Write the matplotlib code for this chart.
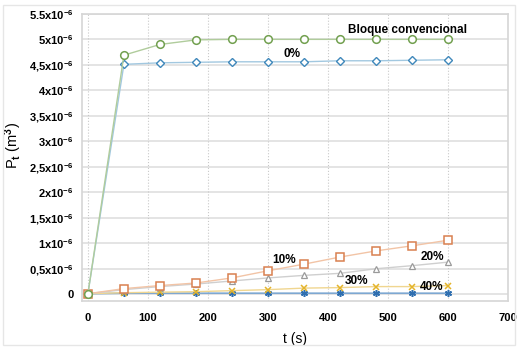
import numpy as np
import matplotlib
matplotlib.use('Agg')
import matplotlib.pyplot as plt

plt.rcParams['font.family'] = 'Liberation Sans'
plt.rcParams['font.weight'] = 'bold'
plt.rcParams['mathtext.fontset'] = 'custom'
plt.rcParams['mathtext.rm'] = 'Liberation Sans:bold'
plt.rcParams['mathtext.it'] = 'Liberation Sans:bold'
plt.rcParams['mathtext.bf'] = 'Liberation Sans:bold'
plt.rcParams['mathtext.default'] = 'rm'

# time (s)
t = [0, 60, 120, 180, 240, 300, 360, 420, 480, 540, 600]

# Pt values in units of 1e-6 m3
bloque = [0.01, 4.69, 4.90, 4.99, 5.0, 5.0, 5.0, 5.0, 5.0, 5.0, 5.0]
p0 = [0.01, 4.51, 4.54, 4.55, 4.56, 4.56, 4.56, 4.58, 4.58, 4.59, 4.60]
p10 = [0.01, 0.11, 0.17, 0.22, 0.32, 0.46, 0.59, 0.73, 0.85, 0.95, 1.06]
p20 = [0.01, 0.09, 0.15, 0.20, 0.26, 0.32, 0.37, 0.41, 0.50, 0.56, 0.63]
p30 = [0.01, 0.03, 0.04, 0.05, 0.07, 0.09, 0.12, 0.13, 0.15, 0.15, 0.17]
p40 = [0.01, 0.02, 0.02, 0.02, 0.02, 0.02, 0.02, 0.02, 0.02, 0.02, 0.02]

yticks = [0, 0.5, 1, 1.5, 2, 2.5, 3, 3.5, 4, 4.5, 5, 5.5]
ylabels = ['0', r'0,5x10$^{-6}$', r'1x10$^{-6}$', r'1,5x10$^{-6}$', r'2x10$^{-6}$',
           r'2,5x10$^{-6}$', r'3x10$^{-6}$', r'3,5x10$^{-6}$', r'4x10$^{-6}$',
           r'4,5x10$^{-6}$', r'5x10$^{-6}$', r'5.5x10$^{-6}$']
xticks = [0, 100, 200, 300, 400, 500, 600, 700]

s = 1e-6
fig = plt.figure(figsize=(5.25, 3.47), dpi=100)
ax = fig.add_axes([0.156, 0.133, 0.812, 0.827])

ax.plot(t, np.array(p40)*s, color='#7ea8d2', lw=1.2, marker=(6, 2, 0), ms=5,
        mec='#2f6fb0', mew=1.1, zorder=3)
ax.plot(t, np.array(p30)*s, color='#f0d690', lw=1, marker='x', ms=4.5,
        mec='#e4b42a', mew=1.1, zorder=3)
ax.plot(t, np.array(p20)*s, color='#cfcfcf', lw=1, marker='^', ms=5,
        mfc='white', mec='#9a9a9a', mew=0.9, zorder=3)
ax.plot(t, np.array(p10)*s, color='#f2c4a6', lw=1, marker='s', ms=5.5,
        mfc='white', mec='#d98050', mew=1.1, zorder=3)
ax.plot(t, np.array(p0)*s, color='#a2c8e0', lw=1, marker='D', ms=3.8,
        mfc='white', mec='#3f88bb', mew=1, zorder=4)
ax.plot(t, np.array(bloque)*s, color='#b0cc9c', lw=1, marker='o', ms=5.5,
        mfc='white', mec='#72a050', mew=1.1, zorder=4)

ax.text(532, 5.19*s, 'Bloque convencional', ha='center', va='center', fontsize=8.5)
ax.text(340, 4.71*s, '0%', ha='center', va='center', fontsize=8.5)
ax.text(327, 0.67*s, '10%', ha='center', va='center', fontsize=8.5)
ax.text(573, 0.74*s, '20%', ha='center', va='center', fontsize=8.5)
ax.text(448, 0.25*s, '30%', ha='center', va='center', fontsize=8.5)
ax.text(573, 0.14*s, '40%', ha='center', va='center', fontsize=8.5)

ax.set_xlim(-10, 700)
ax.set_ylim(-0.13*s, 5.5*s)
ax.set_xticks(xticks)
ax.set_yticks(np.array(yticks)*s)
ax.set_yticklabels(ylabels)
ax.tick_params(axis='both', length=0, labelsize=8)
ax.tick_params(axis='x', pad=9)
ax.tick_params(axis='y', pad=6)

for v in yticks:
    ax.axhline(v*s, color='#e2e2e2', lw=1.3, zorder=1)
for v in xticks[:-1]:
    ax.axvline(v, color='#c9c9c9', lw=0.8, ls=':', zorder=1)

for sp in ax.spines.values():
    sp.set_color('#d6d6d6')
    sp.set_linewidth(1.2)

ax.set_xlabel('t (s)', fontsize=10)
ax.set_ylabel(r'P$_t$ (m$^3$)', fontsize=10.5)
ax.xaxis.set_label_coords(0.5, -0.108)
ax.yaxis.set_label_coords(-0.135, 0.54)

fig.patches.append(plt.Rectangle((0.005, 0.005), 0.975, 0.98, transform=fig.transFigure,
                                 fill=False, ec='#e6e6e6', lw=1))

fig.savefig('out.png', dpi=100)
